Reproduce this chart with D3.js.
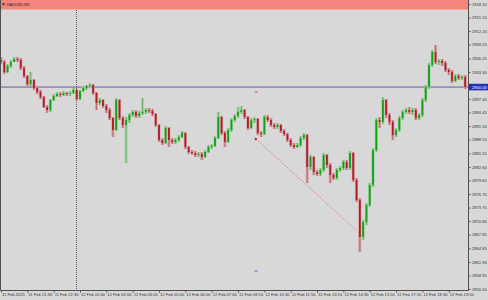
<!DOCTYPE html>
<html>
<head>
<meta charset="utf-8">
<script src="https://cdn.jsdelivr.net/npm/d3@7"></script>
<style>
  html, body { margin: 0; padding: 0; background: #d8d8d8; }
  svg { display: block; }
</style>
</head>
<body>
<svg id="chart"></svg>
<script>
// XAUUSD M5 candles
const symbol = "XAUUSD,M5";

const opens = [
  2905.90, 2905.46, 2903.28, 2904.59, 2905.46, 2906.11, 2905.90, 2904.15, 2902.41, 2900.67,
  2901.54, 2899.79, 2898.92, 2897.83, 2895.65, 2895.00, 2897.18, 2898.05, 2898.49, 2898.27,
  2898.71, 2898.49, 2898.71, 2899.36, 2897.40, 2899.14, 2899.79, 2900.23, 2900.45, 2898.71,
  2896.53, 2897.18, 2895.87, 2895.00, 2893.26, 2890.64, 2897.18, 2893.26, 2891.73, 2892.82,
  2893.91, 2894.57, 2893.69, 2894.35, 2894.57, 2895.00, 2894.78, 2894.13, 2891.73, 2888.46,
  2887.81, 2891.08, 2888.46, 2888.03, 2888.46, 2889.12, 2889.99, 2886.94, 2885.85, 2885.63,
  2885.20, 2885.41, 2884.76, 2885.85, 2886.94, 2887.16, 2888.90, 2893.48, 2889.99, 2888.03,
  2890.64, 2892.82, 2893.69, 2894.57, 2895.00, 2893.48, 2891.08, 2892.82, 2893.04, 2889.99,
  2889.77, 2893.48, 2892.82, 2891.73, 2891.30, 2891.73, 2890.43, 2889.77, 2888.46, 2887.37,
  2886.94, 2887.37, 2888.90, 2889.55, 2882.58, 2884.76, 2881.49, 2881.06, 2881.93, 2885.20,
  2883.02, 2880.84, 2880.18, 2881.93, 2882.36, 2883.67, 2882.36, 2885.63, 2879.75, 2875.39,
  2867.33, 2870.60, 2874.30, 2878.66, 2886.28, 2892.82, 2892.39, 2897.18, 2893.91, 2892.39,
  2889.55, 2890.64, 2893.26, 2894.57, 2895.00, 2894.57, 2895.00, 2893.26, 2893.91, 2897.18,
  2900.00, 2904.81, 2907.64, 2905.46, 2905.68, 2905.24, 2903.72, 2903.28, 2901.32, 2902.41,
  2901.97, 2902.19
];

const highs = [
  2906.55, 2905.90, 2905.02, 2905.90, 2906.55, 2906.55, 2906.33, 2904.59, 2902.63, 2903.28,
  2901.76, 2900.23, 2899.36, 2898.05, 2896.09, 2897.40, 2898.49, 2898.92, 2898.92, 2899.14,
  2898.92, 2899.14, 2899.79, 2899.58, 2899.36, 2900.23, 2900.45, 2900.88, 2900.67, 2898.92,
  2897.62, 2897.40, 2896.31, 2895.44, 2893.48, 2897.62, 2897.40, 2893.69, 2893.48, 2894.35,
  2895.00, 2895.00, 2894.78, 2897.62, 2895.44, 2895.44, 2895.22, 2894.35, 2891.95, 2888.90,
  2891.51, 2891.30, 2888.90, 2888.90, 2889.55, 2890.43, 2890.21, 2887.16, 2886.28, 2886.07,
  2885.85, 2885.85, 2886.28, 2887.37, 2887.59, 2889.34, 2894.57, 2893.69, 2890.43, 2891.08,
  2893.26, 2894.13, 2895.65, 2895.87, 2895.22, 2893.69, 2893.26, 2893.48, 2893.26, 2890.43,
  2893.91, 2893.91, 2893.26, 2892.17, 2892.17, 2891.95, 2890.86, 2889.99, 2888.90, 2887.81,
  2887.81, 2889.34, 2889.99, 2889.77, 2885.20, 2884.98, 2881.93, 2882.36, 2885.63, 2885.41,
  2883.45, 2881.27, 2882.36, 2882.80, 2884.11, 2884.11, 2886.07, 2885.85, 2880.18, 2875.83,
  2871.03, 2874.74, 2879.09, 2886.72, 2893.26, 2893.48, 2897.83, 2897.40, 2894.35, 2892.82,
  2891.08, 2893.69, 2895.00, 2895.44, 2895.65, 2895.44, 2895.44, 2894.35, 2897.62, 2900.45,
  2905.24, 2908.07, 2909.16, 2906.11, 2906.11, 2905.68, 2904.15, 2903.72, 2902.85, 2902.85,
  2902.63, 2902.63
];

const lows = [
  2905.02, 2902.85, 2903.06, 2904.15, 2905.46, 2905.46, 2903.72, 2901.97, 2900.23, 2900.23,
  2899.36, 2898.49, 2897.40, 2895.44, 2894.35, 2894.57, 2896.96, 2897.83, 2897.83, 2898.05,
  2898.05, 2898.05, 2898.49, 2896.96, 2897.18, 2898.92, 2899.36, 2899.79, 2898.27, 2895.00,
  2896.09, 2895.44, 2894.35, 2892.82, 2889.12, 2890.43, 2892.82, 2891.08, 2883.45, 2892.17,
  2893.48, 2893.26, 2893.26, 2893.91, 2894.13, 2894.35, 2893.69, 2891.30, 2888.03, 2887.37,
  2887.59, 2886.94, 2887.59, 2887.59, 2888.03, 2888.90, 2886.50, 2885.41, 2885.20, 2884.76,
  2884.76, 2884.11, 2884.54, 2885.63, 2886.50, 2886.94, 2888.68, 2889.55, 2886.94, 2887.81,
  2890.21, 2892.39, 2893.26, 2894.13, 2893.04, 2890.64, 2890.86, 2892.17, 2889.55, 2889.12,
  2889.55, 2892.39, 2891.30, 2890.86, 2890.86, 2889.99, 2889.34, 2888.03, 2886.94, 2886.50,
  2886.72, 2886.94, 2888.46, 2879.09, 2881.93, 2880.84, 2880.62, 2880.62, 2881.49, 2882.36,
  2879.09, 2879.75, 2879.75, 2881.49, 2881.93, 2881.93, 2881.93, 2879.31, 2874.95, 2864.06,
  2866.67, 2869.94, 2873.86, 2878.22, 2885.85, 2891.08, 2891.95, 2893.26, 2891.73, 2888.46,
  2889.12, 2890.21, 2892.82, 2894.13, 2894.13, 2893.91, 2892.82, 2892.82, 2893.48, 2896.74,
  2899.58, 2904.37, 2905.02, 2904.81, 2904.59, 2903.28, 2902.63, 2900.88, 2901.10, 2901.54,
  2901.54, 2899.58
];

const closes = [
  2905.46, 2903.28, 2904.59, 2905.46, 2906.11, 2905.90, 2904.15, 2902.41, 2900.67, 2901.54,
  2899.79, 2898.92, 2897.83, 2895.65, 2895.00, 2897.18, 2898.05, 2898.49, 2898.27, 2898.71,
  2898.49, 2898.71, 2899.36, 2897.40, 2899.14, 2899.79, 2900.23, 2900.45, 2898.71, 2896.53,
  2897.18, 2895.87, 2895.00, 2893.26, 2890.64, 2897.18, 2893.26, 2891.73, 2892.82, 2893.91,
  2894.57, 2893.69, 2894.35, 2894.57, 2895.00, 2894.78, 2894.13, 2891.73, 2888.46, 2887.81,
  2891.08, 2888.46, 2888.03, 2888.46, 2889.12, 2889.99, 2886.94, 2885.85, 2885.63, 2885.20,
  2885.41, 2884.76, 2885.85, 2886.94, 2887.16, 2888.90, 2893.48, 2889.99, 2888.03, 2890.64,
  2892.82, 2893.69, 2894.57, 2895.00, 2893.48, 2891.08, 2892.82, 2893.04, 2889.99, 2889.77,
  2893.48, 2892.82, 2891.73, 2891.30, 2891.73, 2890.43, 2889.77, 2888.46, 2887.37, 2886.94,
  2887.37, 2888.90, 2889.55, 2882.58, 2884.76, 2881.49, 2881.06, 2881.93, 2885.20, 2883.02,
  2880.84, 2880.18, 2881.93, 2882.36, 2883.67, 2882.36, 2885.63, 2879.75, 2875.39, 2867.33,
  2870.60, 2874.30, 2878.66, 2886.28, 2892.82, 2892.39, 2897.18, 2893.91, 2892.39, 2889.55,
  2890.64, 2893.26, 2894.57, 2895.00, 2894.57, 2895.00, 2893.26, 2893.91, 2897.18, 2900.00,
  2904.81, 2907.64, 2905.46, 2905.68, 2905.24, 2903.72, 2903.28, 2901.32, 2902.41, 2901.97,
  2902.19, 2900.00
];

// price axis labels
const priceTicks = [
  2918.10, 2915.15, 2912.20, 2909.25, 2906.25, 2903.30, 2897.40, 2894.45, 2891.50, 2888.55,
  2885.55, 2882.60, 2879.65, 2876.70, 2873.75, 2870.80, 2867.85, 2864.85, 2861.90, 2858.95, 2856.00
];
const bidPrice = 2900.00;

// time axis labels (candle index where each label sits)
const timeTickIdx = [0, 8, 16, 24, 32, 40, 48, 56, 64, 72, 80, 88, 96, 104, 112, 120, 128, 136];
const timeLabels = [
  "11 Feb 2025", "11 Feb 21:30", "11 Feb 22:30", "12 Feb 01:00", "12 Feb 02:00", "12 Feb 03:00",
  "12 Feb 05:00", "12 Feb 06:00", "12 Feb 07:00", "12 Feb 09:10", "12 Feb 10:30", "12 Feb 11:50",
  "12 Feb 13:10", "12 Feb 14:30", "12 Feb 15:50", "12 Feb 17:10", "12 Feb 18:30", "12 Feb 19:50"
];

// drawn objects on the chart
const separatorIdx = 22.8;
const trendIdx = [77.4, 109.5];
const trendPrice = [2888.68, 2867.76];
const markIdx = 77.5;
const markPrices = [2898.92, 2859.92];

const W = 488, H = 300;
const plotRight = 468.5, plotBottom = 290.5;
const font = "Liberation Sans, Arial, sans-serif";

const svg = d3.select("#chart").attr("width", W).attr("height", H);

const x = d3.scaleLinear().domain([0, closes.length - 1]).range([1, 465.2]);
const y = d3.scaleLinear().domain([2856.00, 2918.10]).range([289, 4]);

svg.append("rect").attr("width", W).attr("height", H).attr("fill", "#d8d8d8");

svg.append("defs").append("clipPath").attr("id", "plotClip")
  .append("rect").attr("x", 0).attr("y", 0).attr("width", plotRight).attr("height", plotBottom);

const plot = svg.append("g").attr("clip-path", "url(#plotClip)");

// period separator
plot.append("line")
  .attr("x1", Math.round(x(separatorIdx)) + 0.5).attr("x2", Math.round(x(separatorIdx)) + 0.5)
  .attr("y1", 0).attr("y2", plotBottom)
  .attr("stroke", "#3a3a3a").attr("stroke-width", 0.8).attr("stroke-dasharray", "1,1");

// bid line
plot.append("line")
  .attr("x1", 0).attr("x2", plotRight)
  .attr("y1", y(bidPrice)).attr("y2", y(bidPrice))
  .attr("stroke", "#5c5ca6").attr("stroke-width", 1);

// trendline
plot.append("line")
  .attr("x1", x(trendIdx[0])).attr("y1", y(trendPrice[0]))
  .attr("x2", x(trendIdx[1])).attr("y2", y(trendPrice[1]))
  .attr("stroke", "#e25a5a").attr("stroke-width", 0.8).attr("stroke-dasharray", "1.5,1.5");
plot.append("circle")
  .attr("cx", x(trendIdx[0])).attr("cy", y(trendPrice[0])).attr("r", 1.2)
  .attr("fill", "#e01818");

plot.selectAll(".mark").data(markPrices).join("line")
  .attr("class", "mark")
  .attr("x1", x(markIdx) - 1.5).attr("x2", x(markIdx) + 1.5)
  .attr("y1", d => y(d)).attr("y2", d => y(d))
  .attr("stroke", (d, i) => i === 0 ? "#e05050" : "#6a5ad0").attr("stroke-width", 1);

// candles
const candles = closes.map((c, i) => ({ i, o: opens[i], h: highs[i], l: lows[i], c }));

const g = plot.selectAll(".candle").data(candles).join("g").attr("class", "candle");

// soft halo over the full range
g.append("rect")
  .attr("x", d => x(d.i) - 1.5).attr("width", 3)
  .attr("y", d => y(d.h)).attr("height", d => Math.max(0.8, y(d.l) - y(d.h)))
  .attr("fill", d => d.c >= d.o ? "#a2d0a2" : "#d4a2a4");

// wick
g.append("rect")
  .attr("x", d => x(d.i) - 0.4).attr("width", 0.8)
  .attr("y", d => y(d.h)).attr("height", d => Math.max(0.8, y(d.l) - y(d.h)))
  .attr("fill", d => d.c >= d.o ? "#58b458" : "#bc5a62");

// body
g.append("rect")
  .attr("x", d => x(d.i) - 0.9).attr("width", 1.8)
  .attr("y", d => y(Math.max(d.o, d.c)))
  .attr("height", d => Math.max(0.8, Math.abs(y(d.o) - y(d.c))))
  .attr("fill", d => d.c >= d.o ? "#14a014" : "#b21c28");

// title bar
svg.append("rect").attr("x", 0).attr("y", 0).attr("width", plotRight).attr("height", 9.5)
  .attr("fill", "#f5857b");
svg.append("path").attr("d", "M2,3.5 L5,3.5 L3.5,5.5 Z").attr("fill", "#111");
svg.append("text").attr("x", 6.5).attr("y", 6.3)
  .attr("font-family", font).attr("font-size", 4)
  .attr("fill", "#222").text(symbol);

// frame
svg.append("path")
  .attr("d", `M0.5,0 V${plotBottom} H${plotRight} V0`)
  .attr("fill", "none").attr("stroke", "#505050").attr("stroke-width", 1);

// price axis
const yAxis = svg.append("g")
  .attr("transform", `translate(${plotRight},0)`)
  .call(d3.axisRight(y).tickValues(priceTicks).tickFormat(d3.format(".2f")).tickSize(2).tickPadding(1.5));
yAxis.select(".domain").remove();
yAxis.selectAll("line").attr("stroke", "#505050");
yAxis.selectAll("text")
  .attr("font-family", font).attr("font-size", 4.1).attr("fill", "#333");

// bid price label
svg.append("rect")
  .attr("x", plotRight + 0.5).attr("y", y(bidPrice) - 3.3).attr("width", W - plotRight).attr("height", 6.6)
  .attr("fill", "#2430b4");
svg.append("text")
  .attr("x", plotRight + 3.5).attr("y", y(bidPrice)).attr("dy", "0.35em")
  .attr("font-family", font).attr("font-size", 4.1)
  .attr("fill", "#fff").text(d3.format(".2f")(bidPrice));

// time axis
const xAxis = svg.append("g")
  .attr("transform", `translate(0,${plotBottom})`)
  .call(d3.axisBottom(x).tickValues(timeTickIdx).tickFormat((d, i) => timeLabels[i]).tickSize(2).tickPadding(0.5));
xAxis.select(".domain").remove();
xAxis.selectAll("line").attr("stroke", "#505050");
xAxis.selectAll("text")
  .attr("text-anchor", "start").attr("x", 0.5)
  .attr("font-family", font).attr("font-size", 4.1).attr("fill", "#333");
</script>
</body>
</html>
